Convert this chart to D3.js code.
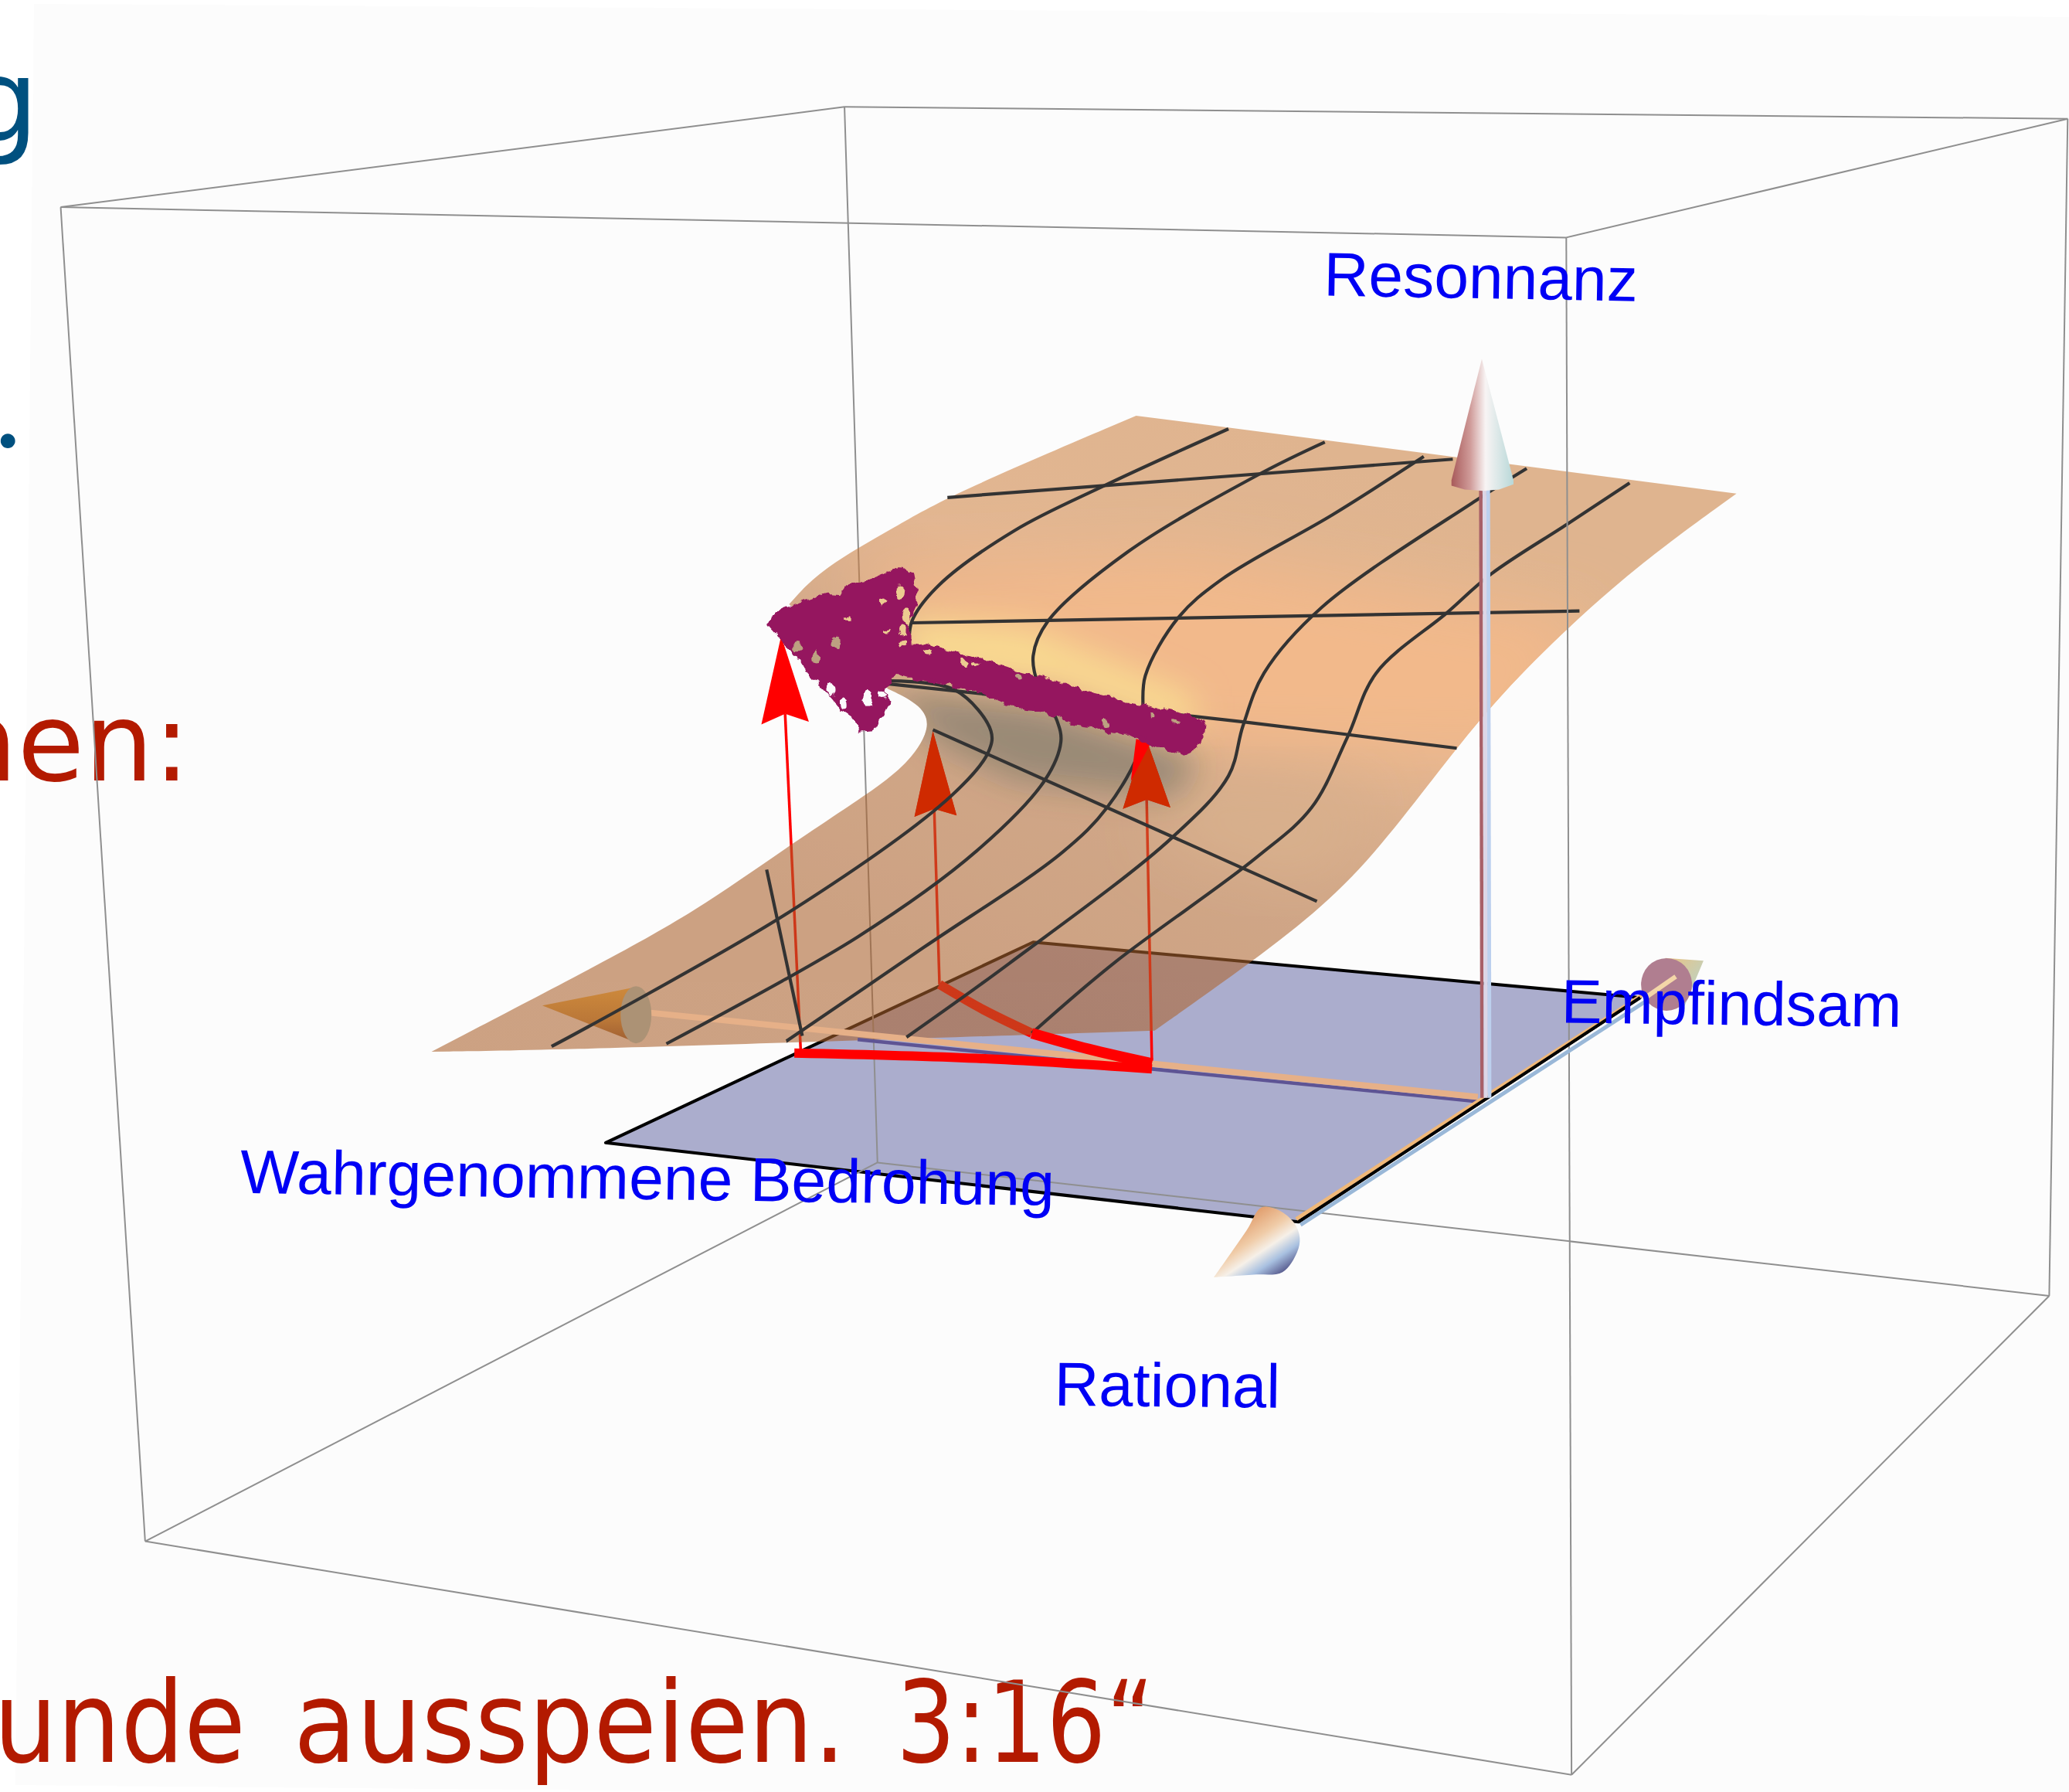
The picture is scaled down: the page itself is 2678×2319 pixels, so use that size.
<!DOCTYPE html>
<html>
  <head>
    <title>Resonanz</title>
    <script src="https://cdn.jsdelivr.net/npm/d3@7"></script>
    <style>
      html, body { margin: 0; padding: 0; background: #fff; overflow: hidden; }
    </style>
  </head>
  <body>
    <svg width="2678" height="2319" id="mainsvg"></svg>
    <script>

    const boxBack = [
      [[640,81],[665,881]],
      [[665,881],[110,1168]],
      [[665,881],[1553,982]]
    ];
    const boxFront = [
      [[46,157],[1187,180]],
      [[1187,180],[1567,90]],
      [[1567,90],[640,81]],
      [[640,81],[46,157]],
      [[46,157],[110,1168]],
      [[1187,180],[1191,1345]],
      [[1567,90],[1553,982]],
      [[110,1168],[1191,1345]],
      [[1191,1345],[1553,982]]
    ];
    const controlPlane = [[459,866],[783,714],[1243,756],[984,926]];

    const edgeTop = [[861,315],[1316,374]];
    const edgeRight = [[1316,374],[1244,426],[1182,481],[1132,532],[1092,582],[1040,650],[997,692],[943,733],[875,781]];
    const edgeBottom = [[875,781],[665,788],[410,796],[327,797]];
    const edgeLeft = [[327,797],[450,733],[527,691],[596,642],[662,599],[690,577],[707,549],[696,533],[673,522]];
    const edgeHidden = [[673,522],[640,490],[598,458]];
    const edgeUpper = [[598,458],[622,431],[681,398],[718,376],[861,315]];

    const litBand = [[650,430],[900,420],[1210,470],[1150,575],[900,570],[700,500]];
    const yellowBand = [[685,468],[780,476],[905,528],[905,560],[800,518],[685,505]];
    const darkBand = [[672,522],[790,535],[910,575],[890,605],[770,592],[712,565]];
    const paleBand = [[890,590],[1040,600],[1000,670],[880,640]];

    const gridLines = [
      [[931,325],[837,368],[769,402],[711,444],[691,471],[689,491]],
      [[672,516],[724,523],[751,554],[749,570],[721,603],[600,690],[418,793]],
      [[1004,335],[955,359],[855,418],[794,471],[783,497],[787,520],[801,546],[804,562],[792,591],[740,645],[650,710],[505,791]],
      [[1079,346],[1010,390],[926,439],[893,468],[868,512],[866,539],[864,567],[839,612],[805,646],[700,718],[596,789]],
      [[1157,355],[1119,379],[1002,460],[958,510],[942,550],[931,588],[888,635],[765,730],[687,786]],
      [[1235,366],[1188,397],[1130,435],[1097,464],[1043,510],[1021,559],[994,612],[952,650],[844,730],[782,783]],
      [[718,377],[1101,348]],
      [[691,472],[1197,463]],
      [[671,518],[868,539],[942,547],[1104,567]],
      [[707,553],[998,683]],
      [[581,659],[608,785]]
    ];

    // arrow = shaft foot, then tip, left barb, notch, right barb
    const redArrows = [
      [[607,800],[592,482],[577,549],[595,541],[613,547]],
      [[712,746],[707,554],[693,619],[708,613],[725,618]],
      [[873,806],[868,558],[851,613],[869,606],[887,612]]
    ];
    const cuspUpper = [[712,746],[745,765],[782,783]];
    const cuspLower = [[782,783],[825,795],[873,806]];
    const cuspBase = [[602,798],[740,802],[873,810]];
    const redTip = [[861,560],[872,563],[857,592]];

    const axisBack = [[1120,832],[490,768]];
    const axisBackFront = [[1120,832],[650,785]];
    const axisUp = [[1126,832],[1125,366]];
    const axisRight = [[984,926],[1262,746]];
    const coneLeft = [[411,762],[482,748],[482,790]];
    const coneLeftEnd = [482,769];
    const coneUp = [[1123,272],[1147,364],[1147,367],[1136,371],[1124,372],[1110,371],[1100,368],[1100,364]];
    const coneFrontHead = [[920,968],[945,932],[956,915],[969,917],[981,927],[985,938],[983,949],[972,964],[950,966],[920,968]];
    const coneFar = [[1262,726],[1291,728],[1276,764]];
    const coneFarEnd = [1263,746];

    const scatterOutline = [
      [188,385],[205,340],[250,312],[300,285],[335,268],[372,272],[385,240],[415,225],[450,212],[485,190],[520,170],
      [548,190],[552,225],[560,270],[552,310],[545,345],[530,380],[545,420],[545,470],[580,465],[630,485],[680,505],
      [730,530],[790,560],[850,585],[900,605],[960,635],[1040,665],[1090,695],[1150,705],[1210,725],[1250,740],
      [1290,770],[1285,820],[1270,865],[1240,885],[1190,860],[1140,835],[1100,805],[1060,805],[1020,775],[960,765],
      [920,735],[860,710],[800,695],[740,655],[680,630],[620,605],[560,590],[505,565],[490,600],[480,640],[490,680],
      [470,740],[450,785],[420,790],[400,740],[370,710],[340,650],[310,600],[280,550],[250,480],[215,430]
    ];
    const scatterGapsLight = [
      [520,258,10,25],[475,295,8,10],[535,350,8,25],[525,405,7,20],[525,460,8,8],[385,360,8,5],
      [485,410,7,5],[590,490,10,6],[680,530,7,14],[710,540,10,8]
    ];
    const scatterGapsTan = [
      [355,455,12,18],[260,470,10,15],[305,510,8,20],[820,590,8,10],[1040,770,6,12],[1160,740,6,12],[1220,760,12,8]
    ];
    const scatterGapsWhite = [
      [345,635,10,20],[375,690,8,20],[435,670,12,25],[475,655,10,12]
    ];

    const axisLabels = ["Resonnanz", "Empfindsam", "Wahrgenommene Bedrohung", "Rational"];
    const axisLabelSpots = [[1003,224,1.0,238],[1183,775,0.7,258],[182,904,0.9,617],[799,1065,0.6,171]];

    // the words of the bottom line with the span each one covers, in full picture pixels
    const bottomWords = ["unde", "ausspeien.", "3:16“"];
    const bottomSpans = [[-8,318],[380,1095],[1160,1494]];

    let svg = d3.select('svg');
    const width = +svg.attr('width');
    const height = +svg.attr('height');

    const x = d3.scaleLinear().domain([0,1568]).range([0,width]);
    const y = d3.scaleLinear().domain([0,1358]).range([0,height]);
    const cropX = d3.scaleLinear().domain([0,1568]).range([900,1700]);
    const cropY = d3.scaleLinear().domain([0,1500]).range([680,1180]);

    const straight = d3.line().x(d => x(d[0])).y(d => y(d[1]));
    const smooth = d3.line().x(d => x(d[0])).y(d => y(d[1])).curve(d3.curveCatmullRom.alpha(0.5));
    const soft = d3.line().x(d => x(d[0])).y(d => y(d[1])).curve(d3.curveBasis);
    const closed = d3.line().x(d => x(d[0])).y(d => y(d[1])).curve(d3.curveLinearClosed);

    const defs = svg.append('defs');

    function gradient(id, from, to, stops) {
      const g = defs.append('linearGradient').attr('id', id)
        .attr('gradientUnits', 'userSpaceOnUse')
        .attr('x1', x(from[0])).attr('y1', y(from[1]))
        .attr('x2', x(to[0])).attr('y2', y(to[1]));
      stops.forEach(s => g.append('stop').attr('offset', s[0]).attr('stop-color', s[1]));
    }

    function drawLine(parent, pts, color, w) {
      return parent.append('path').attr('d', straight(pts))
        .attr('fill', 'none').attr('stroke', color).attr('stroke-width', w);
    }

    function shifted(pts, dx, dy) {
      return pts.map(p => [p[0] + dx, p[1] + dy]);
    }

    // faint page of the original slide
    svg.append('path')
      .attr('d', 'M44,5 L' + width + ',22 L' + width + ',' + height + ' L1000,' + height + ' L20,2310 Z')
      .attr('fill', '#fcfcfc');

    // clipped slide text at the edges
    const slideText = svg.append('g').attr('font-family', '"DejaVu Sans"');
    slideText.append('text').text('g').attr('x', 50).attr('y', 182).attr('text-anchor', 'end')
      .attr('font-size', 148).attr('fill', '#00507f');
    slideText.append('text').text('.').attr('x', 28).attr('y', 579).attr('text-anchor', 'end')
      .attr('font-family', 'Lato').attr('font-size', 150).attr('fill', '#00507f');
    slideText.append('text').text('nen:').attr('x', 246).attr('y', 1010).attr('text-anchor', 'end')
      .attr('font-size', 141).attr('fill', '#b31a00');
    slideText.selectAll(null).data(bottomWords).enter().append('text')
      .text(d => d)
      .attr('x', (d, i) => bottomSpans[i][0])
      .attr('y', 2280)
      .attr('font-size', 146)
      .attr('textLength', (d, i) => bottomSpans[i][1] - bottomSpans[i][0])
      .attr('lengthAdjust', 'spacingAndGlyphs')
      .attr('fill', '#b31a00');

    // control plane
    svg.append('path').attr('d', closed(controlPlane))
      .attr('fill', '#abadcd').attr('stroke', '#000').attr('stroke-width', 4).attr('stroke-linejoin', 'round');

    boxBack.forEach(seg => drawLine(svg, seg, '#8f8f8f', 2));

    // these sit under the translucent surface
    redArrows.forEach(a => {
      drawLine(svg, [a[0], a[3]], '#ff0000', 3.5);
      svg.append('path').attr('d', closed(a.slice(1))).attr('fill', '#ff0000');
    });
    drawLine(svg, cuspUpper, '#ff0000', 12).attr('d', smooth(cuspUpper));

    // surface
    const edges = [edgeTop, edgeRight, edgeBottom, edgeLeft, edgeHidden, edgeUpper];
    const outline = edges.map((e, i) => {
      const d = soft(e);
      return i === 0 ? d : d.replace('M', 'L');
    }).join(' ') + ' Z';

    defs.append('clipPath').attr('id', 'surfaceClip').append('path').attr('d', outline);
    defs.append('filter').attr('id', 'soft').attr('x', '-30%').attr('y', '-30%').attr('width', '160%').attr('height', '160%')
      .append('feGaussianBlur').attr('stdDeviation', 22);
    defs.append('filter').attr('id', 'softer').attr('x', '-30%').attr('y', '-30%').attr('width', '160%').attr('height', '160%')
      .append('feGaussianBlur').attr('stdDeviation', 40);

    gradient('surfaceBase', [1000,340], [800,790], [
      [0, '#cb8242'], [0.35, '#d08446'], [0.62, '#b26a34'], [1, '#aa602b']
    ]);

    const surface = svg.append('g').attr('opacity', 0.58);
    surface.append('path').attr('d', outline).attr('fill', 'url(#surfaceBase)');
    const shades = surface.append('g').attr('clip-path', 'url(#surfaceClip)');
    shades.append('path').attr('d', closed(litBand)).attr('fill', '#eb893a').attr('filter', 'url(#softer)');
    shades.append('path').attr('d', closed(paleBand)).attr('fill', '#c07a3e').attr('filter', 'url(#softer)');
    shades.append('path').attr('d', closed(yellowBand)).attr('fill', '#f8c344').attr('filter', 'url(#soft)');
    shades.append('path').attr('d', closed(darkBand)).attr('fill', '#523718').attr('filter', 'url(#soft)');

    // heads seen through the surface keep a stronger colour than plain compositing gives
    redArrows.slice(1).forEach(a => {
      svg.append('path').attr('d', closed(a.slice(1))).attr('fill', '#cf2a00');
    });

    // back axis, the part that lies on top of the surface
    drawLine(svg, shifted(axisBackFront, 0, 2.8), '#5e5494', 4.5);
    drawLine(svg, shifted(axisBack, 0, -0.8), '#e6b088', 8);

    gradient('coneLeftFill', [440,745], [440,795], [[0, '#d08c3c'], [0.55, '#bb7838'], [1, '#965630']]);
    svg.append('path').attr('d', closed(coneLeft)).attr('fill', 'url(#coneLeftFill)');
    svg.append('ellipse').attr('cx', x(coneLeftEnd[0])).attr('cy', y(coneLeftEnd[1]))
      .attr('rx', 20).attr('ry', 37).attr('fill', '#ac9275');

    // grid on the surface
    gridLines.forEach(g => {
      svg.append('path').attr('d', smooth(g)).attr('fill', 'none')
        .attr('stroke', '#333').attr('stroke-width', 4.2);
    });

    svg.append('path').attr('d', closed(redTip)).attr('fill', '#ff0000');

    // red fold projection on the plane
    drawLine(svg, cuspBase, '#ff0000', 12).attr('d', smooth(cuspBase));
    drawLine(svg, cuspLower, '#ff0000', 14).attr('d', smooth(cuspLower));

    boxFront.forEach(seg => drawLine(svg, seg, '#8f8f8f', 2));

    // right axis along the plane edge
    drawLine(svg, shifted(axisRight, -1.6, -2.2), '#f0b878', 5);
    drawLine(svg, shifted(axisRight, 1.6, 2.2), '#9ab8d8', 5);
    drawLine(svg, [controlPlane[2], controlPlane[3]], '#000', 4);

    gradient('coneFarFill', [1262,730], [1290,755], [[0, '#e8c488'], [1, '#b4d4cc']]);
    svg.append('path').attr('d', closed(coneFar)).attr('fill', 'url(#coneFarFill)');
    svg.append('ellipse').attr('cx', x(coneFarEnd[0])).attr('cy', y(coneFarEnd[1]))
      .attr('rx', 33).attr('ry', 34).attr('fill', '#b07e90');
    drawLine(svg, [[1247,756],[1270,740]], '#f3d6a8', 6);

    gradient('coneFrontFill', [945,920], [975,965], [
      [0, '#e09a68'], [0.35, '#f0cca8'], [0.55, '#f6f0e8'], [0.75, '#a8c0e0'], [1, '#4a4a80']
    ]);
    svg.append('path').attr('d', smooth(coneFrontHead)).attr('fill', 'url(#coneFrontFill)');

    // vertical axis
    drawLine(svg, shifted(axisUp, 2.8, 0), '#bcd0ee', 5);
    drawLine(svg, shifted(axisUp, -2.8, 0), '#a86068', 4.5);
    drawLine(svg, axisUp, '#dcd6e6', 5);
    gradient('coneUpFill', [1100,330], [1147,330], [
      [0, '#a85a5a'], [0.3, '#cf9a98'], [0.55, '#f8f4f4'], [1, '#b8d8d8']
    ]);
    svg.append('path').attr('d', closed(coneUp)).attr('fill', 'url(#coneUpFill)');

    // scatter of points
    const rough = defs.append('filter').attr('id', 'rough')
      .attr('x', '-10%').attr('y', '-10%').attr('width', '120%').attr('height', '120%');
    rough.append('feTurbulence').attr('type', 'fractalNoise').attr('baseFrequency', 0.09)
      .attr('numOctaves', 2).attr('seed', 4).attr('result', 'noise');
    rough.append('feDisplacementMap').attr('in', 'SourceGraphic').attr('in2', 'noise')
      .attr('scale', 11).attr('xChannelSelector', 'R').attr('yChannelSelector', 'G');

    const scatter = svg.append('g').attr('filter', 'url(#rough)');
    const cropLine = d3.line().x(d => cropX(d[0])).y(d => cropY(d[1])).curve(d3.curveLinearClosed);
    scatter.append('path').attr('d', cropLine(scatterOutline)).attr('fill', '#95185f')
      .attr('stroke', '#95185f').attr('stroke-width', 5).attr('stroke-linejoin', 'round');

    [[scatterGapsLight, '#eccb90'], [scatterGapsTan, '#bda081'], [scatterGapsWhite, '#fbfbfb']].forEach(set => {
      scatter.selectAll(null).data(set[0]).enter().append('ellipse')
        .attr('cx', d => cropX(d[0])).attr('cy', d => cropY(d[1]))
        .attr('rx', d => d[2] * 0.55).attr('ry', d => d[3] * 0.38)
        .attr('fill', set[1]);
    });

    // axis labels
    svg.append('g').selectAll('text').data(axisLabels).enter().append('text')
      .text(d => d)
      .attr('transform', (d, i) => {
        const s = axisLabelSpots[i];
        return 'translate(' + x(s[0]) + ',' + y(s[1]) + ') rotate(' + s[2] + ')';
      })
      .attr('textLength', (d, i) => x(axisLabelSpots[i][3]))
      .attr('lengthAdjust', 'spacingAndGlyphs')
      .attr('font-family', '"Liberation Sans"')
      .attr('font-size', 80)
      .attr('fill', '#0000f5');

    </script>
  </body>
</html>
